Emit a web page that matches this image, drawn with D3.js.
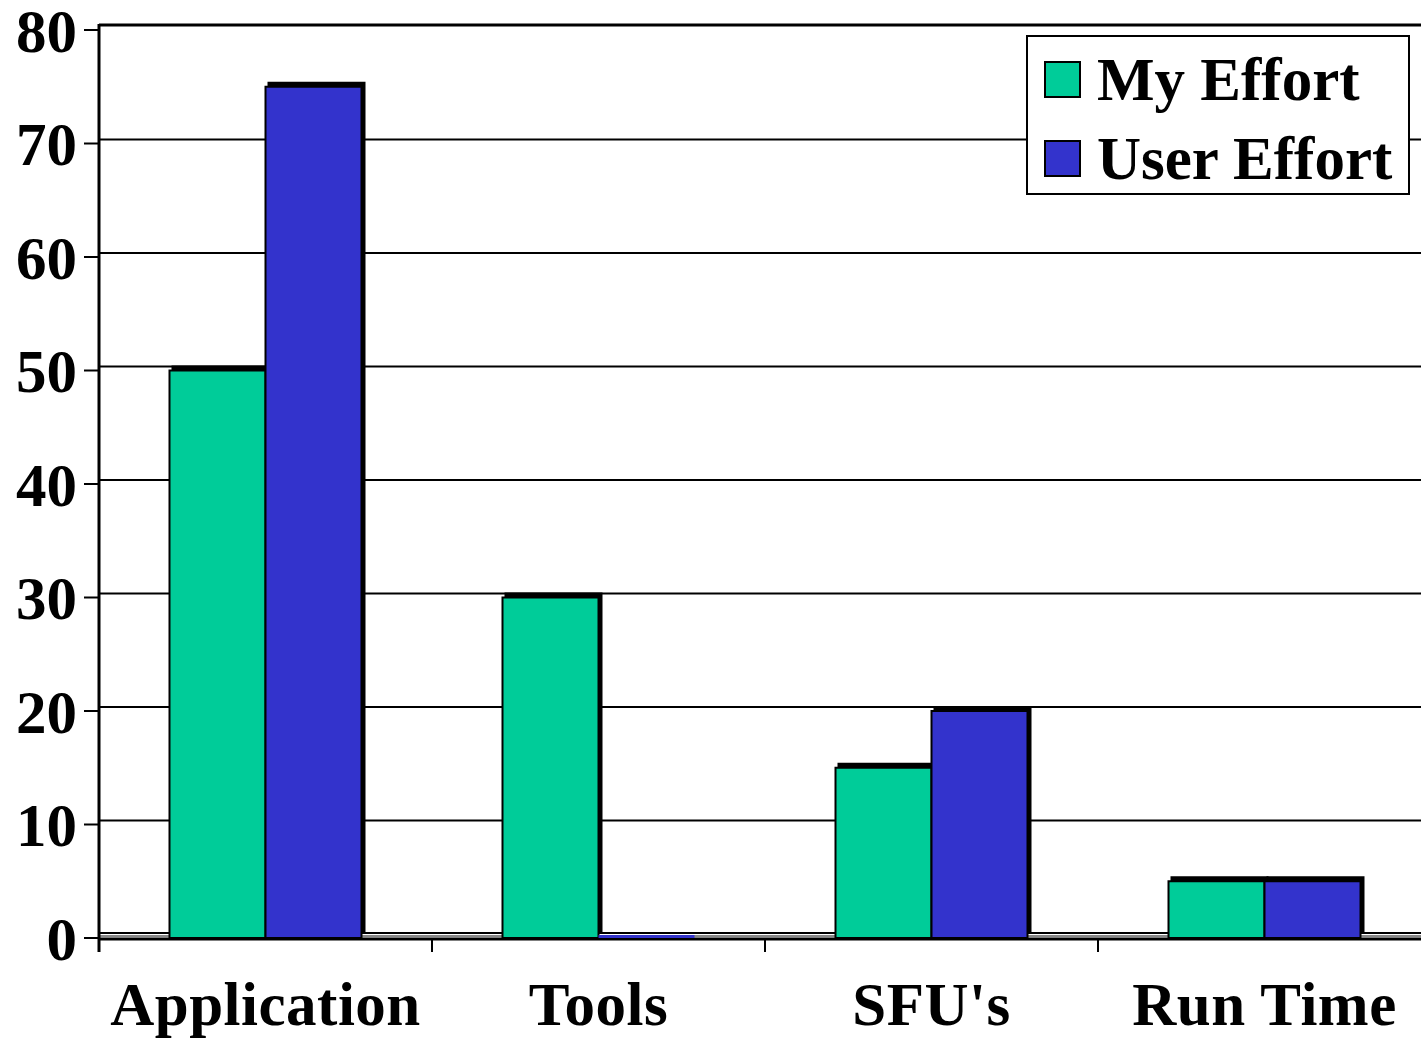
<!DOCTYPE html>
<html>
<head>
<meta charset="utf-8">
<script src="https://d3js.org/d3.v7.min.js"></script>
<style>
  body { margin: 0; background: #fff; }
  text { font-family: "Liberation Serif", "Times New Roman", serif; font-weight: bold; }
</style>
</head>
<body>
<div id="chart"></div>
<script>
// data
var categories = ["Application", "Tools", "SFU's", "Run Time"];
var seriesNames = ["My Effort", "User Effort"];
var myEffort = [50, 30, 15, 5];
var userEffort = [75, 0, 20, 5];
var yTicks = [0, 10, 20, 30, 40, 50, 60, 70, 80];
var colors = ["#00CC99", "#3333CC"];

var W = 1421, H = 1038;
var plotLeft = 99, plotRight = 1431, plotTop = 30, plotBottom = 938;
var depth = 4;

var svg = d3.select("#chart").append("svg")
  .attr("width", W).attr("height", H);

var x = d3.scaleBand().domain(categories).range([plotLeft, plotRight]).paddingInner(0).paddingOuter(0);
var x1 = d3.scaleBand().domain(seriesNames).range([0, 192]);
var groupOffset = (x.bandwidth() - 192) / 2;
var y = d3.scaleLinear().domain([0, 80]).range([plotBottom, plotTop]);

// back wall top border
svg.append("line")
  .attr("x1", plotLeft).attr("x2", W).attr("y1", plotTop - 5).attr("y2", plotTop - 5)
  .attr("stroke", "#000").attr("stroke-width", 3);

// gridlines (on back wall)
svg.selectAll(".grid").data(yTicks.filter(function(d) { return d > 0 && d < 80; }))
  .enter().append("line")
  .attr("x1", plotLeft).attr("x2", W)
  .attr("y1", function(d) { return y(d) - depth; })
  .attr("y2", function(d) { return y(d) - depth; })
  .attr("stroke", "#000").attr("stroke-width", 2);

// floor
svg.append("line").attr("x1", plotLeft).attr("x2", W)
  .attr("y1", plotBottom - 5).attr("y2", plotBottom - 5).attr("stroke", "#000").attr("stroke-width", 2);
svg.append("line").attr("x1", plotLeft).attr("x2", W)
  .attr("y1", plotBottom - 2).attr("y2", plotBottom - 2).attr("stroke", "#888").attr("stroke-width", 2);
svg.append("line").attr("x1", plotLeft).attr("x2", W)
  .attr("y1", plotBottom + 1).attr("y2", plotBottom + 1).attr("stroke", "#000").attr("stroke-width", 3);

// bars
var rows = [];
categories.forEach(function(c, i) {
  rows.push({ cat: c, s: seriesNames[0], v: myEffort[i], k: 0 });
  rows.push({ cat: c, s: seriesNames[1], v: userEffort[i], k: 1 });
});

var bars = svg.selectAll(".bar").data(rows.filter(function(d) { return d.v > 0; }))
  .enter().append("g");
// 3D depth (black)
bars.append("rect")
  .attr("x", function(d) { return x(d.cat) + groupOffset + x1(d.s) + 2; })
  .attr("y", function(d) { return y(d.v) - depth - 1; })
  .attr("width", x1.bandwidth() + 2)
  .attr("height", function(d) { return plotBottom - y(d.v) + 1; })
  .attr("fill", "#000");
bars.append("rect")
  .attr("x", function(d) { return x(d.cat) + groupOffset + x1(d.s); })
  .attr("y", function(d) { return y(d.v); })
  .attr("width", x1.bandwidth())
  .attr("height", function(d) { return plotBottom - y(d.v); })
  .attr("fill", function(d) { return colors[d.k]; })
  .attr("stroke", "#000").attr("stroke-width", 2);

// zero-height bars show as a thin coloured line on the floor
svg.selectAll(".zero").data(rows.filter(function(d) { return d.v === 0; }))
  .enter().append("rect")
  .attr("x", function(d) { return x(d.cat) + groupOffset + x1(d.s); })
  .attr("y", function(d) { return y(d.v) - 3; })
  .attr("width", x1.bandwidth())
  .attr("height", 3)
  .attr("fill", function(d) { return colors[d.k]; });

// left axis
svg.append("line").attr("x1", plotLeft).attr("x2", plotLeft)
  .attr("y1", plotTop - 6).attr("y2", plotBottom + 14)
  .attr("stroke", "#000").attr("stroke-width", 3);
svg.selectAll(".ytick").data(yTicks).enter().append("line")
  .attr("x1", plotLeft - 15).attr("x2", plotLeft)
  .attr("y1", function(d) { return y(d); }).attr("y2", function(d) { return y(d); })
  .attr("stroke", "#000").attr("stroke-width", 2);
svg.selectAll(".ylab").data(yTicks).enter().append("text")
  .attr("x", 77).attr("y", function(d) { return y(d); })
  .attr("dy", "0.36em")
  .attr("text-anchor", "end")
  .style("font-size", "61px")
  .text(function(d) { return d; });

// bottom ticks at category boundaries
svg.selectAll(".xtick").data(categories.slice(1)).enter().append("line")
  .attr("x1", function(d) { return x(d); }).attr("x2", function(d) { return x(d); })
  .attr("y1", plotBottom).attr("y2", plotBottom + 14)
  .attr("stroke", "#000").attr("stroke-width", 2);
svg.selectAll(".xlab").data(categories).enter().append("text")
  .attr("x", function(d) { return x(d) + x.bandwidth() / 2; })
  .attr("y", 1025)
  .attr("text-anchor", "middle")
  .style("font-size", "61px")
  .style("letter-spacing", "0.5px")
  .text(function(d) { return d; });

// legend
var lg = svg.append("g");
lg.append("rect").attr("x", 1027).attr("y", 36).attr("width", 382).attr("height", 158)
  .attr("fill", "#fff").attr("stroke", "#000").attr("stroke-width", 2);
var items = lg.selectAll(".item").data(seriesNames).enter().append("g");
items.append("rect")
  .attr("x", 1045).attr("y", function(d, i) { return 62 + i * 79; })
  .attr("width", 35).attr("height", 35)
  .attr("fill", function(d, i) { return colors[i]; })
  .attr("stroke", "#000").attr("stroke-width", 2);
items.append("text")
  .attr("x", 1097).attr("y", function(d, i) { return 100 + i * 79; })
  .style("font-size", "61px")
  .text(function(d) { return d; });
</script>
</body>
</html>
